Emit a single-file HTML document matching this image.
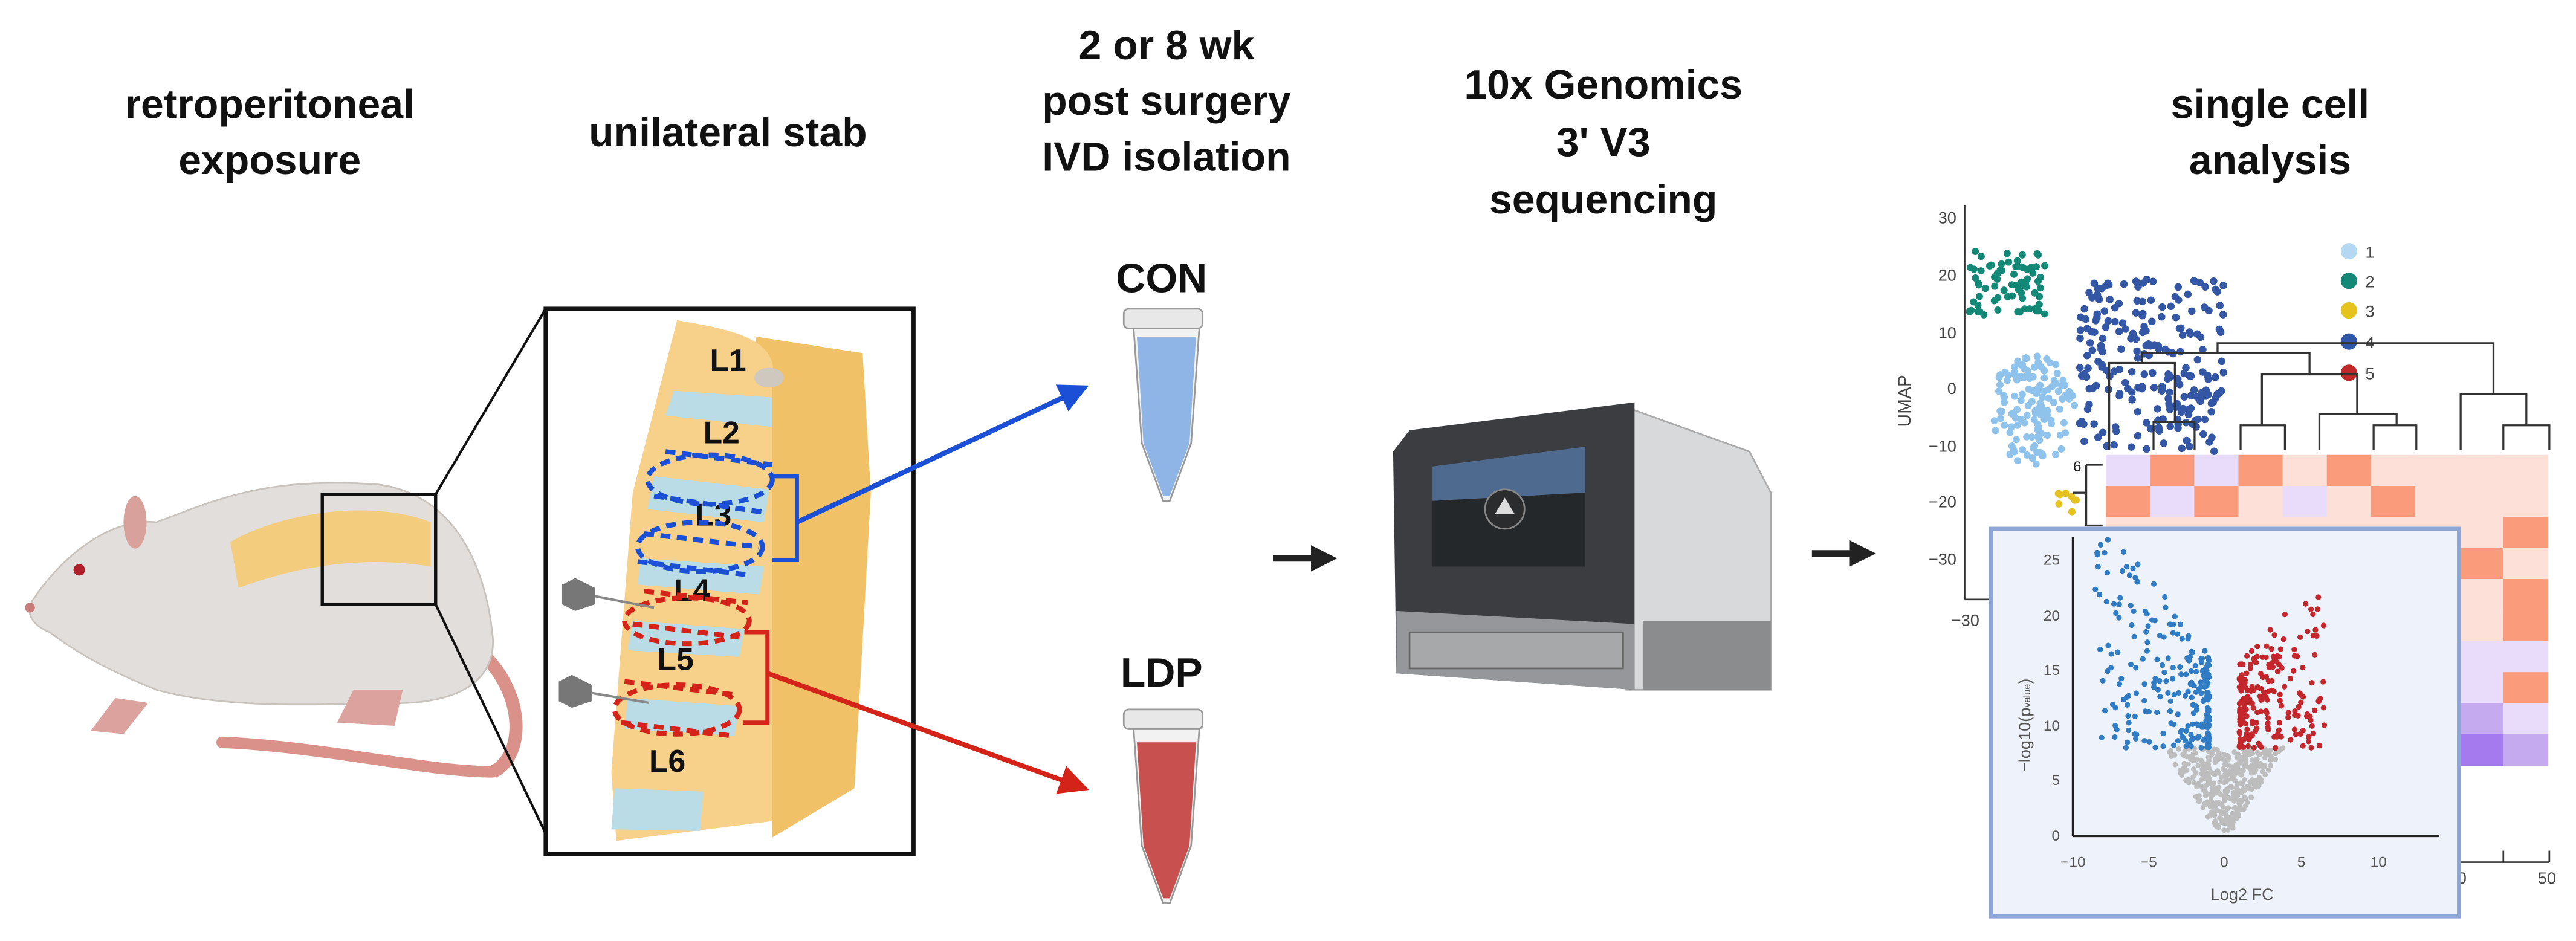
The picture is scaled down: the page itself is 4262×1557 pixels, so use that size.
<!DOCTYPE html>
<html><head><meta charset="utf-8"><style>
html,body{margin:0;padding:0;background:#fff;}
svg{display:block;}
text{font-family:"Liberation Sans",sans-serif;}
</style></head><body>
<svg id="s" width="4262" height="1557" viewBox="0 0 1568 573" xmlns="http://www.w3.org/2000/svg">
<defs>
<marker id="ab" markerWidth="6" markerHeight="6" refX="5" refY="3" orient="auto" markerUnits="strokeWidth"><path d="M0,0 L6,3 L0,6 z" fill="#1a4fd6"/></marker>
<marker id="ar" markerWidth="6" markerHeight="6" refX="5" refY="3" orient="auto" markerUnits="strokeWidth"><path d="M0,0 L6,3 L0,6 z" fill="#d42318"/></marker>
<marker id="ak" markerWidth="4" markerHeight="4" refX="3" refY="2" orient="auto" markerUnits="strokeWidth"><path d="M0,0 L4,2 L0,4 z" fill="#222"/></marker>
</defs>
<g font-weight="bold" font-size="25" text-anchor="middle" fill="#111">
<text x="164" y="72">retroperitoneal</text><text x="164" y="106">exposure</text>
<text x="443" y="89">unilateral stab</text>
<text x="710" y="36">2 or 8 wk</text><text x="710" y="70">post surgery</text><text x="710" y="104">IVD isolation</text>
<text x="976" y="60">10x Genomics</text><text x="976" y="95">3' V3</text><text x="976" y="130">sequencing</text>
<text x="1382" y="72">single cell</text><text x="1382" y="106">analysis</text>
<text x="707" y="178">CON</text><text x="707" y="418">LDP</text>
</g>
<!-- rat -->
<g>
<path d="M300,470 C260,470 200,455 135,452" stroke="#d9918a" stroke-width="7" fill="none" stroke-linecap="round"/>
<path d="M290,395 C320,420 320,460 300,470" stroke="#d9918a" stroke-width="8" fill="none"/>
<path d="M20,365 C40,335 70,315 95,318 C130,305 160,290 230,295 C270,300 295,335 300,390 C300,420 270,430 230,428 C180,430 130,430 95,420 C70,410 50,400 30,385 C18,380 15,372 20,365 z" fill="#e2dedb" stroke="#c9c3be" stroke-width="1"/>
<path d="M70,425 L55,445 L75,447 L90,428 z" fill="#dca39e"/>
<path d="M215,420 L205,440 L240,442 L245,420 z" fill="#dca39e"/>
<ellipse cx="82" cy="318" rx="7" ry="16" fill="#d9a19c"/>
<circle cx="48" cy="347" r="3.5" fill="#b0202a"/>
<circle cx="18" cy="370" r="3" fill="#c97d7b"/>
<path d="M140,330 C175,310 230,305 262,318 L262,345 C220,338 180,345 145,358 z" fill="#f3cc7d"/>
<rect x="196" y="301" width="69" height="67" fill="none" stroke="#111" stroke-width="2"/>
<line x1="265" y1="301" x2="332" y2="188" stroke="#111" stroke-width="1.5"/>
<line x1="265" y1="368" x2="338" y2="520" stroke="#111" stroke-width="1.5"/>
</g>
<!-- inset -->
<rect x="332" y="188" width="224" height="332" fill="#fff" stroke="#111" stroke-width="2.5"/>
<g>
<path d="M460,205 L525,215 L530,300 L520,480 L470,510 L460,210 z" fill="#f0c166"/>
<path d="M412,195 C440,200 475,205 470,230 L470,500 L375,512 L372,470 L385,300 z" fill="#f7d089"/>
<path d="M410,238 L470,242 L470,260 L405,253 z" fill="#b9dce6"/>
<path d="M398,290 L468,298 L465,318 L394,310 z" fill="#b9dce6"/>
<path d="M390,340 L465,345 L462,362 L388,356 z" fill="#b9dce6"/>
<path d="M385,378 L453,383 L450,400 L382,396 z" fill="#b9dce6"/>
<path d="M382,425 L450,430 L447,448 L380,444 z" fill="#b9dce6"/>
<path d="M374,480 L428,482 L426,506 L372,505 z" fill="#b9dce6"/>
<ellipse cx="468" cy="230" rx="9" ry="6" fill="#cfc8bf"/>
<g font-weight="bold" font-size="19" fill="#111">
<text x="432" y="226">L1</text><text x="428" y="270">L2</text><text x="423" y="320">L3</text>
<text x="410" y="366">L4</text><text x="400" y="408">L5</text><text x="395" y="470">L6</text></g>
<g stroke="#1a4fd6" stroke-width="3" stroke-dasharray="6,4" fill="none">
<path d="M405,275 L470,283"/><path d="M398,302 L465,312"/><path d="M392,325 L462,333"/><path d="M388,342 L455,350"/>
<ellipse cx="432" cy="292" rx="38" ry="15"/><ellipse cx="426" cy="333" rx="38" ry="15"/></g>
<path d="M470,290 L485,290 L485,341 L470,341" stroke="#1a4fd6" stroke-width="2.5" fill="none"/>
<g stroke="#d42318" stroke-width="3" stroke-dasharray="6,4" fill="none">
<path d="M392,360 L455,367"/><path d="M385,380 L450,388"/><path d="M380,415 L447,423"/><path d="M378,440 L445,448"/>
<ellipse cx="418" cy="378" rx="38" ry="14"/><ellipse cx="412" cy="432" rx="38" ry="15"/></g>
<path d="M453,385 L467,385 L467,440 L452,440" stroke="#d42318" stroke-width="2.5" fill="none"/>
<path d="M342,356 L350,352 L362,358 L362,368 L350,372 L342,368 z" fill="#777"/><line x1="362" y1="363" x2="398" y2="370" stroke="#888" stroke-width="1.5"/>
<path d="M340,415 L348,411 L360,417 L360,427 L348,431 L340,427 z" fill="#777"/><line x1="360" y1="422" x2="395" y2="428" stroke="#888" stroke-width="1.5"/>
</g>
<line x1="485" y1="318" x2="660" y2="236" stroke="#1a4fd6" stroke-width="3" marker-end="url(#ab)"/>
<line x1="467" y1="410" x2="660" y2="480" stroke="#d42318" stroke-width="3" marker-end="url(#ar)"/>
<!-- tubes -->
<g>
<rect x="684" y="188" width="48" height="12" rx="3" fill="#e8e8e8" stroke="#999"/>
<path d="M690,200 L730,200 L725,270 L712,305 L708,305 L695,270 z" fill="#f2f2f2" stroke="#999"/>
<path d="M692,205 L728,205 L724,270 L712,302 L708,302 L696,270 z" fill="#8fb4e6"/>
<rect x="684" y="432" width="48" height="12" rx="3" fill="#e8e8e8" stroke="#999"/>
<path d="M690,444 L730,444 L725,515 L712,550 L708,550 L695,515 z" fill="#f2f2f2" stroke="#999"/>
<path d="M692,452 L728,452 L724,515 L712,547 L708,547 L696,515 z" fill="#c8504e"/>
</g>
<line x1="775" y1="340" x2="810" y2="340" stroke="#222" stroke-width="4" marker-end="url(#ak)"/>
<line x1="1103" y1="337" x2="1138" y2="337" stroke="#222" stroke-width="4" marker-end="url(#ak)"/>
<!-- machine -->
<g>
<path d="M990,248 L1065,275 L1078,300 L1078,420 L990,420 z" fill="#d8d9da" stroke="#aaa"/>
<path d="M1000,378 L1078,378 L1078,420 L1000,420 z" fill="#8a8c8e"/>
<path d="M858,262 L995,245 L995,420 L850,410 L848,275 z" fill="#3b3d40"/>
<path d="M850,372 L995,380 L995,420 L850,410 z" fill="#95979a"/>
<rect x="858" y="385" width="130" height="22" fill="#a6a8aa" stroke="#666"/>
<path d="M872,284 L965,272 L965,345 L872,345 z" fill="#25282b"/>
<path d="M872,284 L965,272 L965,300 L872,305 z" fill="#4e6a8e"/>
<circle cx="916" cy="310" r="12" fill="#2a2c2e" stroke="#888"/>
<path d="M910,313 L916,303 L922,313 z" fill="#ddd"/>
</g>
<!-- plots -->
<g id="plots" font-size="10" fill="#444">
<line x1="1196" y1="125" x2="1196" y2="365" stroke="#333" stroke-width="1"/>
<line x1="1196" y1="365" x2="1250" y2="365" stroke="#333" stroke-width="1"/>
<g text-anchor="end"><text x="1191" y="136">30</text><text x="1191" y="171">20</text><text x="1191" y="206">10</text><text x="1191" y="240">0</text><text x="1191" y="275">−10</text><text x="1191" y="309">−20</text><text x="1191" y="344">−30</text></g>
<text x="1188" y="381">−30</text>
<text transform="translate(1163,260) rotate(-90)" font-size="11">UMAP</text>
<text x="1440" y="157">1</text><text x="1440" y="175">2</text><text x="1440" y="193">3</text><text x="1440" y="212">4</text><text x="1440" y="231">5</text>
<g id="heat"></g>
<g id="dots"></g>
<circle cx="1430" cy="153" r="5" fill="#b5d8f2"/><circle cx="1430" cy="171" r="5" fill="#138877"/><circle cx="1430" cy="189" r="5" fill="#e6c21f"/><circle cx="1430" cy="208" r="5" fill="#2f56a5"/><circle cx="1430" cy="227" r="5" fill="#c0282a"/>
<g stroke="#333" stroke-width="1.2" fill="none">
<path d="M1284,274 L1284,221 L1324,221 L1324,257"/>
<path d="M1311,274 L1311,257 L1336,257 L1336,274"/>
<path d="M1364,274 L1364,259 L1391,259 L1391,274"/>
<path d="M1412,274 L1412,252 L1459,252 L1459,259"/>
<path d="M1445,274 L1445,259 L1471,259 L1471,274"/>
<path d="M1377,259 L1377,228 L1435,228 L1435,252"/>
<path d="M1304,221 L1304,215 L1406,215 L1406,228"/>
<path d="M1350,215 L1350,209 L1518,209 L1518,240"/>
<path d="M1498,274 L1498,240 L1538,240 L1538,259"/>
<path d="M1524,274 L1524,259 L1552,259 L1552,274"/>
<path d="M1270,283 L1280,283 M1270,283 L1270,320 L1280,320 M1262,300 L1270,300"/>
</g>
<text x="1262" y="287" font-size="9" fill="#222">6</text>
<text x="1496" y="538">0</text><text x="1545" y="538">50</text>
<line x1="1497" y1="525" x2="1552" y2="525" stroke="#333"/>
<line x1="1552" y1="518" x2="1552" y2="525" stroke="#333"/><line x1="1524" y1="518" x2="1524" y2="525" stroke="#333"/>
<rect x="1212" y="322" width="285" height="236" fill="#eef3fb" stroke="#8ea6d6" stroke-width="2.5"/>
<line x1="1262" y1="327" x2="1262" y2="509" stroke="#222" stroke-width="1.5"/>
<line x1="1262" y1="509" x2="1485" y2="509" stroke="#222" stroke-width="1.5"/>
<g font-size="9" fill="#555">
<g text-anchor="end"><text x="1254" y="344">25</text><text x="1254" y="378">20</text><text x="1254" y="411">15</text><text x="1254" y="445">10</text><text x="1254" y="478">5</text><text x="1254" y="512">0</text></g>
<g text-anchor="middle"><text x="1262" y="528">−10</text><text x="1308" y="528">−5</text><text x="1354" y="528">0</text><text x="1401" y="528">5</text><text x="1448" y="528">10</text>
<text x="1365" y="548" font-size="10">Log2 FC</text></g>
<text transform="translate(1236,470) rotate(-90)" font-size="10">−log10(p<tspan font-size="6">value</tspan>)</text>
</g>
<g id="vol"></g>
</g>
</svg>
<script>
var ns="http://www.w3.org/2000/svg",seed=7;function r(){seed=(seed*16807)%2147483647;return seed/2147483647;}
function c(g,x,y,rad,f){var e=document.createElementNS(ns,"circle");e.setAttribute("cx",x.toFixed(1));e.setAttribute("cy",y.toFixed(1));e.setAttribute("r",rad);e.setAttribute("fill",f);document.getElementById(g).appendChild(e);}
function rect(g,x,y,w,h,f){var e=document.createElementNS(ns,"rect");e.setAttribute("x",x);e.setAttribute("y",y);e.setAttribute("width",w);e.setAttribute("height",h);e.setAttribute("fill",f);document.getElementById(g).appendChild(e);}
var i;
// heatmap
var pal={L:"#fde1d9",O:"#fa9c7c",P:"#e9dcfa",M:"#c6aaf0",D:"#a67aef"};
var pat=["POPOLOLLLL","OPOLPLOLLL","LLLLLLLLLO","LLLLLLLLOL","LLLLLLLLLO","LLLLLLLLLO","LLLLLLLLPP","LLLLLLLLPO","LLLLLLLLMP","LLLLLLLLDM"];
for(var a=0;a<10;a++)for(var b=0;b<10;b++)rect("heat",(1282+b*26.9).toFixed(1),(277+a*18.9).toFixed(1),27.3,19.3,pal[pat[a][b]]);
// umap dots
for(i=0;i<75;i++)c("dots",1199+r()*46,153+r()*40,2.2,"#138877");
for(i=0;i<130;i++){var t=r()*6.28,q=Math.sqrt(r());c("dots",1237+Math.cos(t)*q*26,250+Math.sin(t)*q*34,2.2,"#8fc3ec");}
for(i=0;i<230;i++)c("dots",1266+r()*88,170+r()*105,2.3,"#3356a5");
for(i=0;i<8;i++)c("dots",1253+r()*12,300+r()*12,2.2,"#e6c21f");
// volcano
function vy(v){return 509-v*6.7;}function vx(v){return 1354+v*9.3;}
for(i=0;i<380;i++){var y=0.5+Math.pow(r(),0.7)*7.5,w=0.3+y*0.45;var x=(r()-0.5)*2*w;c("vol",vx(x),vy(y),1.6,"#bdbdbd");}
for(i=0;i<230;i++){var x=-1-Math.pow(r(),2.2)*7.5,y=8+Math.pow(r(),1.3)*(7+Math.abs(x)*1.8);if(y>27)y=27-r()*3;c("vol",vx(x),vy(y),1.7,"#2f7bc4");}
for(i=0;i<210;i++){var x=1+Math.pow(r(),2)*5.6,y=8+Math.pow(r(),1.3)*(6+x*1.6);if(y>22)y=22-r()*3;c("vol",vx(x),vy(y),1.7,"#c3262b");}
</script>
</body></html>
